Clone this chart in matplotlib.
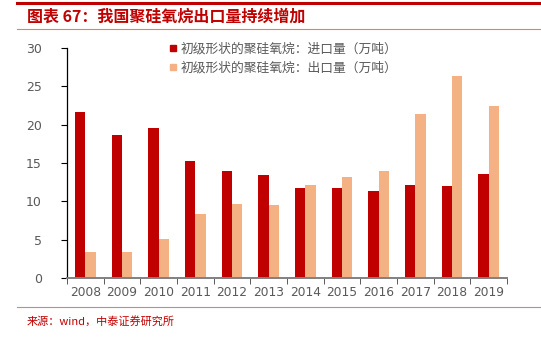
import matplotlib
matplotlib.use("Agg")
import matplotlib.pyplot as plt
import numpy as np
from matplotlib.lines import Line2D

plt.rcParams['font.family'] = ['Noto Sans CJK SC', 'DejaVu Sans']

years = ['2008', '2009', '2010', '2011', '2012', '2013', '2014', '2015', '2016', '2017', '2018', '2019']
imports = [21.6, 18.6, 19.6, 15.2, 13.9, 13.5, 11.8, 11.8, 11.3, 12.1, 12.0, 13.6]
exports = [3.4, 3.4, 5.1, 8.4, 9.6, 9.5, 12.1, 13.2, 13.9, 21.4, 26.4, 22.4]
yticks = [0, 5, 10, 15, 20, 25, 30]

title = '图表 67：我国聚硅氧烷出口量持续增加'
label_imp = '初级形状的聚硅氧烷：进口量（万吨）'
label_exp = '初级形状的聚硅氧烷：出口量（万吨）'
source = '来源：wind，中泰证券研究所'

c_imp = '#c00000'
c_exp = '#f4b183'
red = '#c00000'

fig = plt.figure(figsize=(5.41, 3.46), dpi=100)
W, H = 541, 346
ax = fig.add_axes([67 / W, 1 - 278 / H, (507 - 67) / W, (278 - 48) / H])

x = np.arange(len(years))
w = 0.28
ax.bar(x - w / 2, imports, width=w, color=c_imp, zorder=2)
ax.bar(x + w / 2, exports, width=w, color=c_exp, zorder=2)

ax.set_xlim(-0.5, len(years) - 0.5)
ax.set_ylim(0, 30)
ax.set_yticks(yticks)
ax.set_yticklabels([str(v) for v in yticks], fontsize=9, color='#595959', family='DejaVu Sans')
ax.set_xticks(x)
ax.set_xticklabels(years, fontsize=8.8, color='#595959', family='DejaVu Sans')
ax.tick_params(axis='x', length=0, pad=6)
ax.set_xticks(np.arange(-0.5, len(years)), minor=True)
ax.tick_params(axis='x', which='minor', length=4, direction='out', color='#404040')
ax.tick_params(axis='y', length=4, direction='out', color='#000000', pad=14)

for s in ['top', 'right']:
    ax.spines[s].set_visible(False)
ax.spines['left'].set_color('#000000')
ax.spines['left'].set_linewidth(0.9)
ax.spines['bottom'].set_color('#808080')
ax.spines['bottom'].set_linewidth(1.4)

handles = [Line2D([], [], marker='s', linestyle='none', markersize=5, color=c_imp),
           Line2D([], [], marker='s', linestyle='none', markersize=5, color=c_exp)]
fig.legend(handles, [label_imp, label_exp], loc='upper left',
           bbox_to_anchor=(155 / W, 1 - 31 / H), frameon=False, fontsize=9.2,
           labelcolor='#595959', handletextpad=0.1, labelspacing=0.45, handlelength=1.0)

# header and footer rules
fig.add_artist(Line2D([17 / W, 1], [1 - 3 / H, 1 - 3 / H], color=red, linewidth=2.2))
fig.add_artist(Line2D([17 / W, 1], [1 - 29 / H, 1 - 29 / H], color='#d98080', linewidth=0.8))
fig.add_artist(Line2D([17 / W, 1], [1 - 307 / H, 1 - 307 / H], color='#d98080', linewidth=0.8))

fig.text(27 / W, 1 - 17 / H, title, fontsize=11.5, color=red, fontweight='bold',
         style='italic', va='center', ha='left')
fig.text(27 / W, 1 - 321 / H, source, fontsize=8, color=red, va='center', ha='left')

fig.savefig('out.png', dpi=100)
